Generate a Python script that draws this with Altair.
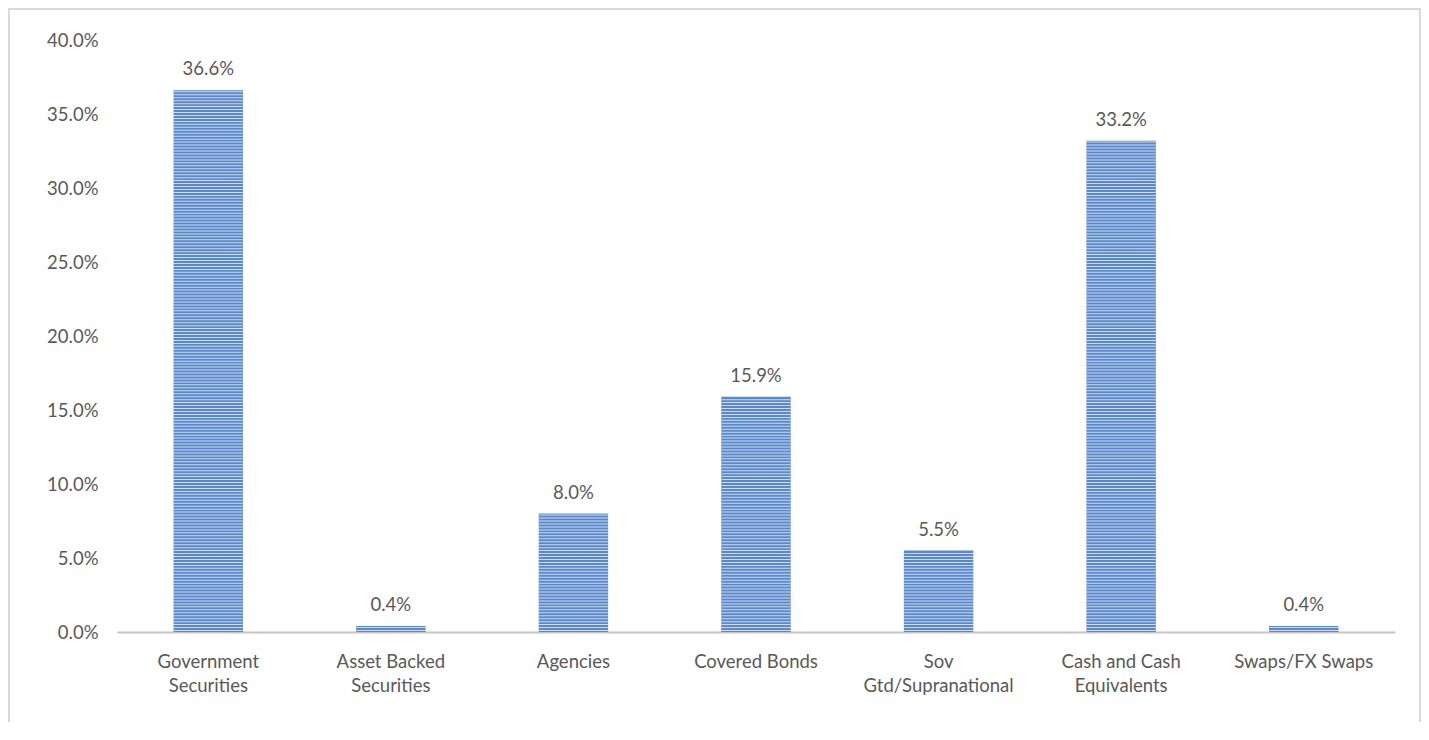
import altair as alt
import pandas as pd

categories = [
    "Government|Securities",
    "Asset Backed|Securities",
    "Agencies",
    "Covered Bonds",
    "Sov|Gtd/Supranational",
    "Cash and Cash|Equivalents",
    "Swaps/FX Swaps",
]
values = [0.366, 0.004, 0.080, 0.159, 0.055, 0.332, 0.004]
y_ticks = [0.0, 0.05, 0.10, 0.15, 0.20, 0.25, 0.30, 0.35, 0.40]

df = pd.DataFrame({"cat": categories, "value": values})

FONT = "Lato"
TXT = "#595959"
BAR = "#5A88CC"

x_axis = alt.Axis(
    title=None,
    labelAngle=0,
    ticks=False,
    grid=False,
    domainColor="#c4c4c4",
    domainWidth=2,
    labelPadding=20,
    labelFontSize=18.5,
    labelFont=FONT,
    labelColor=TXT,
    labelLineHeight=24,
    labelExpr="split(datum.label, '|')",
)
y_axis = alt.Axis(
    title=None,
    values=y_ticks,
    format=".1%",
    grid=False,
    ticks=False,
    domain=False,
    labelPadding=19,
    labelFontSize=18.5,
    labelFont=FONT,
    labelColor=TXT,
)
x_scale = alt.Scale(paddingInner=0.62, paddingOuter=0.31)
y_scale = alt.Scale(domain=[0, 0.4])

base = alt.Chart(df)

bars = base.mark_bar(color=BAR).encode(
    x=alt.X("cat:N", sort=categories, scale=x_scale, axis=x_axis),
    y=alt.Y("value:Q", scale=y_scale, axis=y_axis),
)

stripes = (
    base.transform_calculate(stripe="sequence(0.001, datum.value - 0.0005, 0.002)")
    .transform_flatten(["stripe"])
    .mark_tick(color="white", thickness=1, size=69, opacity=0.7)
    .encode(
        x=alt.X("cat:N", sort=categories, scale=x_scale, axis=x_axis),
        y=alt.Y("stripe:Q", scale=y_scale, axis=y_axis),
    )
)

labels = base.mark_text(
    baseline="alphabetic", dy=-15, fontSize=18.5, font=FONT, color=TXT
).encode(
    x=alt.X("cat:N", sort=categories, scale=x_scale, axis=x_axis),
    y=alt.Y("value:Q", scale=y_scale, axis=y_axis),
    text=alt.Text("value:Q", format=".1%"),
)

frame = (
    alt.Chart(alt.Data(values=[{}]))
    .mark_rect(filled=False, stroke="#d9d9d9", strokeWidth=2)
    .encode(
        x=alt.value(-108),
        x2=alt.value(1303),
        y=alt.value(-31),
        y2=alt.value(800),
    )
)

chart = (
    alt.layer(frame, bars, stripes, labels)
    .properties(
        width=1278,
        height=592,
        autosize=alt.AutoSizeParams(type="none"),
        padding={"left": 109, "top": 32, "right": 26, "bottom": 90},
        view=alt.ViewBackground(strokeOpacity=0, strokeWidth=0),
    )
    .configure_view(strokeWidth=0, strokeOpacity=0)
    .configure_axis(grid=False)
    .configure(background="white")
)

chart.save("out.html", embed_options={"renderer": "svg", "actions": False})
